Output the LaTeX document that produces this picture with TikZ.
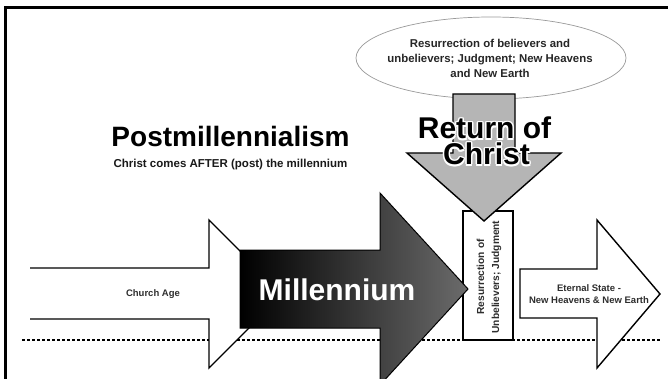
\documentclass[tikz,border=0pt]{standalone}
\usepackage{fontspec}
\setmainfont{Liberation Sans}
\usetikzlibrary{shapes.geometric}
\begin{document}
\begin{tikzpicture}[x=1pt,y=-1pt,line join=miter,
  arrowline/.style={draw=black,line width=1.4pt},
  smalltext/.style={font=\bfseries\fontsize{9.5}{12}\selectfont,text=black!82,align=center,inner sep=0pt},
  bigtext/.style={font=\bfseries\fontsize{30}{30}\selectfont,inner sep=0pt},
  rettext/.style={font=\bfseries\fontsize{30}{30}\selectfont,inner sep=0pt,anchor=base}]
\useasboundingbox (0,0) rectangle (668,379);
\fill[white] (0,0) rectangle (668,379);

% frame
\draw[line width=3pt] (5.5,379) -- (5.5,8) -- (668,8);

% time line
\coordinate (dl) at (22,340);
\coordinate (dr) at (660,340);
\draw[line width=1.8pt,dash pattern=on 3pt off 2pt] (dl) -- (dr);

% Church Age arrow
\fill[white] (30,268) -- (209,268) -- (209,220) -- (283,294) -- (209,368) -- (209,319) -- (30,319) -- cycle;
\draw[arrowline] (30,268) -- (209,268) -- (209,220) -- (283,294) -- (209,368) -- (209,319) -- (30,319);
\node[smalltext] (church) at (153,294) {Church Age};

% Resurrection box
\node[draw=black,line width=1.4pt,fill=white,minimum width=50pt,minimum height=129pt,inner sep=0pt] (box) at (488,275.5) {};
\node[rotate=90,align=center,font=\bfseries\fontsize{10.2}{15}\selectfont,text=black!82,inner sep=0pt] (restext) at (489,277) {Resurrection of\\Unbelievers; Judgment};

% Millennium arrow
\shadedraw[left color=black,right color=black!58,draw=black,line width=1pt]
  (240,250) -- (380,250) -- (380,193) -- (468,289) -- (380,385) -- (380,328) -- (240,328) -- cycle;
\node[bigtext,text=white,anchor=base] (mill) at (337,300) {Millennium};

% Eternal State arrow
\draw[arrowline,fill=white] (520,269) -- (597,269) -- (597,220) -- (660,294) -- (597,368) -- (597,318) -- (520,318) -- cycle;
\node[smalltext] (eternal) at (589,294) {Eternal State -\\New Heavens \& New Earth};

% ellipse
\node[ellipse,draw=black!40,line width=0.7pt,fill=white,minimum width=270pt,minimum height=82pt,inner sep=0pt] (oval) at (491,58) {};
\node[align=center,font=\bfseries\fontsize{11.4}{15}\selectfont,text=black!85,inner sep=0pt] (ovaltext) at (490,58) {Resurrection of believers and\\unbelievers; Judgment; New Heavens\\and New Earth};

% Return arrow
\draw[arrowline,fill=black!29] (453,94) -- (515,94) -- (515,153) -- (561,153) -- (484,221) -- (407,153) -- (453,153) -- cycle;

% Return of Christ text with white halo
\foreach \a in {0,45,...,315}{
  \node[rettext,text=white,shift={(\a:1.5pt)}] (hr\a) at (484.5,139) {Return of};
  \node[rettext,text=white,shift={(\a:1.5pt)}] (hc\a) at (486.5,165) {Christ};
}
\node[rettext] (ret1) at (484.5,139) {Return of};
\node[rettext] (ret2) at (486.5,165) {Christ};

% title
\node[font=\bfseries\fontsize{28}{30}\selectfont,anchor=base,inner sep=0pt] (title) at (230.5,147) {Postmillennialism};
\node[font=\bfseries\fontsize{11.5}{13}\selectfont,anchor=base,inner sep=0pt,text=black!90] (sub) at (230.5,168) {Christ comes AFTER (post) the millennium};
\end{tikzpicture}
\end{document}
